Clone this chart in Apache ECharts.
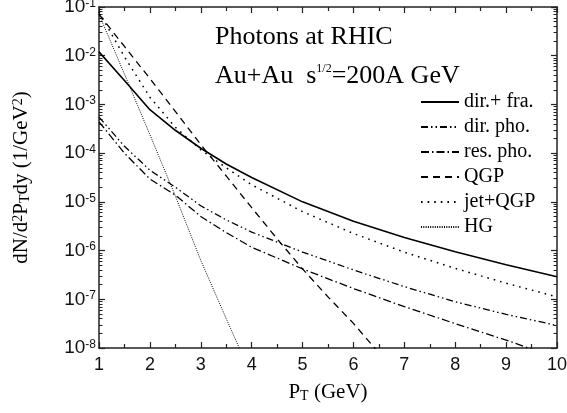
<!DOCTYPE html>
<html>
<head>
<meta charset="utf-8">
<script src="https://cdn.jsdelivr.net/npm/echarts@6/dist/echarts.min.js"></script>
<style>
  html, body { margin: 0; padding: 0; background: #fff; }
  #chart { width: 567px; height: 413px; }
</style>
</head>
<body>
<div id="chart"></div>
<script>
// p_T grid (GeV) and spectra dN/d^2p_T dy (1/GeV^2)
const ptDirFra = [1, 1.5, 2, 2.5, 3, 3.5, 4, 5, 6, 7, 8, 9, 10];
const dirFra = [1.2e-2, 3.1e-3, 7.8e-4, 2.95e-4, 1.26e-4, 6.0e-5, 3.16e-5, 1.0e-5, 4.0e-6, 1.86e-6, 9.5e-7, 5.1e-7, 2.9e-7];

const ptDirPho = [1, 1.5, 2, 2.5, 3, 3.5, 4, 5, 6, 7, 8, 9, 10];
const dirPho = [5.5e-4, 1.38e-4, 4.47e-5, 2.0e-5, 8.3e-6, 4.27e-6, 2.4e-6, 9.3e-7, 4.0e-7, 1.82e-7, 8.9e-8, 4.9e-8, 2.9e-8];

const ptResPho = [1, 1.5, 2, 2.5, 3, 3.5, 4, 5, 6, 7, 8, 9, 9.5, 10];
const resPho = [4.4e-4, 1.0e-4, 2.95e-5, 1.38e-5, 5.0e-6, 2.34e-6, 1.17e-6, 4.2e-7, 1.66e-7, 7.1e-8, 3.16e-8, 1.45e-8, 9.5e-9, 6.3e-9];

const ptQgp = [1, 1.5, 2, 2.5, 3, 3.5, 4, 4.5, 5, 5.5, 6, 6.5];
const qgp = [7.1e-2, 1.55e-2, 3.4e-3, 7.2e-4, 1.5e-4, 3.4e-5, 7.6e-6, 1.74e-6, 4.2e-7, 1.12e-7, 3.2e-8, 7.9e-9];

const ptJetQgp = [1, 1.5, 2, 2.5, 3, 3.5, 4, 5, 6, 7, 8, 9, 10];
const jetQgp = [7.9e-2, 9.5e-3, 1.41e-3, 3.4e-4, 1.17e-4, 5.0e-5, 2.24e-5, 6.3e-6, 2.24e-6, 9.3e-7, 4.3e-7, 2.14e-7, 1.12e-7];

const ptHg = [1, 1.5, 2, 2.5, 3, 3.5, 3.8];
const hg = [7.1e-2, 4.2e-3, 2.4e-4, 1.32e-5, 6.3e-7, 4.0e-8, 7.9e-9];

const names = ["dir.+ fra.", "dir. pho.", "res. pho.", "QGP", "jet+QGP", "HG"];

// decades shown on the y axis, minor ticks at 2..9 of each
const decades = [-8, -7, -6, -5, -4, -3, -2];
const minorYTicks = [];
decades.forEach(e => {
  for (let m = 2; m <= 9; m++) minorYTicks.push(m * Math.pow(10, e));
});

const serif = "Liberation Serif";
const sans = "Liberation Sans";
const axisColor = "#222";

function pairs(xs, ys) {
  return xs.map((x, i) => [x, ys[i]]);
}

function lineSeries(name, data, type, width) {
  return {
    name: name,
    type: "line",
    data: data,
    symbol: "none",
    smooth: false,
    clip: true,
    itemStyle: { color: "#000" },
    lineStyle: { color: "#000", width: width, type: type },
    z: 3
  };
}

const xAxisBase = {
  type: "value",
  min: 1,
  max: 10,
  interval: 1,
  splitLine: { show: false },
  axisLine: { show: true, onZero: false, lineStyle: { color: axisColor, width: 1.5 } },
  axisTick: { show: true, inside: true, length: 6, lineStyle: { color: axisColor, width: 1.2 } },
  minorTick: { show: true, splitNumber: 2, length: 4, lineStyle: { color: axisColor, width: 1.2 } }
};

const yAxisBase = {
  type: "log",
  logBase: 10,
  min: 1e-8,
  max: 1e-1,
  splitNumber: 7,
  splitLine: { show: false },
  axisLine: { show: true, onZero: false, lineStyle: { color: axisColor, width: 1.5 } },
  axisTick: { show: true, inside: true, length: 6, lineStyle: { color: axisColor, width: 1.2 } }
};

// overlay axes that only carry the log-spaced minor ticks
function minorYAxis(pos) {
  return Object.assign({}, yAxisBase, {
    position: pos,
    axisLine: { show: false },
    axisLabel: { show: false },
    axisTick: {
      show: true,
      inside: true,
      length: 3.5,
      customValues: minorYTicks,
      lineStyle: { color: axisColor, width: 1 }
    }
  });
}

const chart = echarts.init(document.getElementById("chart"));

chart.setOption({
  backgroundColor: "#fff",
  animation: false,
  grid: {
    left: 99,
    right: 10,
    top: 7,
    bottom: 65,
    containLabel: false,
    outerBoundsMode: "none"
  },
  legend: {
    data: names,
    orient: "vertical",
    left: 420,
    top: 92,
    padding: 0,
    itemWidth: 38,
    itemHeight: 14,
    itemGap: 5,
    selectedMode: false,
    itemStyle: { opacity: 0 },
    textStyle: { fontFamily: serif, fontSize: 20, lineHeight: 20, color: "#000" }
  },
  xAxis: [
    Object.assign({}, xAxisBase, {
      position: "bottom",
      name: "P{sub|T} (GeV)",
      nameLocation: "middle",
      nameGap: 34,
      nameTextStyle: {
        fontFamily: serif,
        fontSize: 21,
        color: "#000",
        rich: { sub: { fontFamily: serif, fontSize: 14, verticalAlign: "bottom", color: "#000" } }
      },
      axisLabel: { margin: 8, fontFamily: sans, fontSize: 18, color: "#111" }
    }),
    Object.assign({}, xAxisBase, {
      position: "top",
      axisLabel: { show: false }
    })
  ],
  yAxis: [
    Object.assign({}, yAxisBase, {
      position: "left",
      name: "dN/d{sup|2}P{sub|T}dy (1/GeV{sup|2})",
      nameLocation: "middle",
      nameGap: 67,
      nameRotate: 90,
      nameTextStyle: {
        fontFamily: serif,
        fontSize: 21,
        color: "#000",
        rich: {
          sup: { fontFamily: serif, fontSize: 14, verticalAlign: "top", color: "#000" },
          sub: { fontFamily: serif, fontSize: 14, verticalAlign: "bottom", color: "#000" }
        }
      },
      axisLabel: {
        margin: 3,
        fontFamily: sans,
        fontSize: 19,
        color: "#111",
        formatter: function (v) {
          return "10{sup|" + Math.round(Math.log10(v)) + "}";
        },
        rich: { sup: { fontFamily: sans, fontSize: 12, verticalAlign: "top", color: "#111" } }
      }
    }),
    Object.assign({}, yAxisBase, {
      position: "right",
      axisLabel: { show: false }
    }),
    minorYAxis("left"),
    minorYAxis("right")
  ],
  graphic: [
    {
      type: "text",
      left: 215,
      top: 24,
      style: { text: "Photons at RHIC", fontFamily: serif, fontSize: 26, fill: "#000" }
    },
    {
      type: "text",
      left: 215,
      top: 63,
      style: {
        text: "Au+Au  s{sup|1/2}=200A GeV",
        fontFamily: serif,
        fontSize: 26,
        fill: "#000",
        rich: { sup: { fontFamily: serif, fontSize: 12, verticalAlign: "top", fill: "#000" } }
      }
    }
  ],
  series: [
    lineSeries(names[0], pairs(ptDirFra, dirFra), "solid", 1.6),
    lineSeries(names[1], pairs(ptDirPho, dirPho), [7, 3, 1.5, 3, 1.5, 3], 1.3),
    lineSeries(names[2], pairs(ptResPho, resPho), [8, 3, 1.5, 3], 1.3),
    lineSeries(names[3], pairs(ptQgp, qgp), [7, 5], 1.3),
    lineSeries(names[4], pairs(ptJetQgp, jetQgp), [1.6, 5], 1.5),
    lineSeries(names[5], pairs(ptHg, hg), [1, 1.3], 1)
  ]
});
</script>
</body>
</html>
